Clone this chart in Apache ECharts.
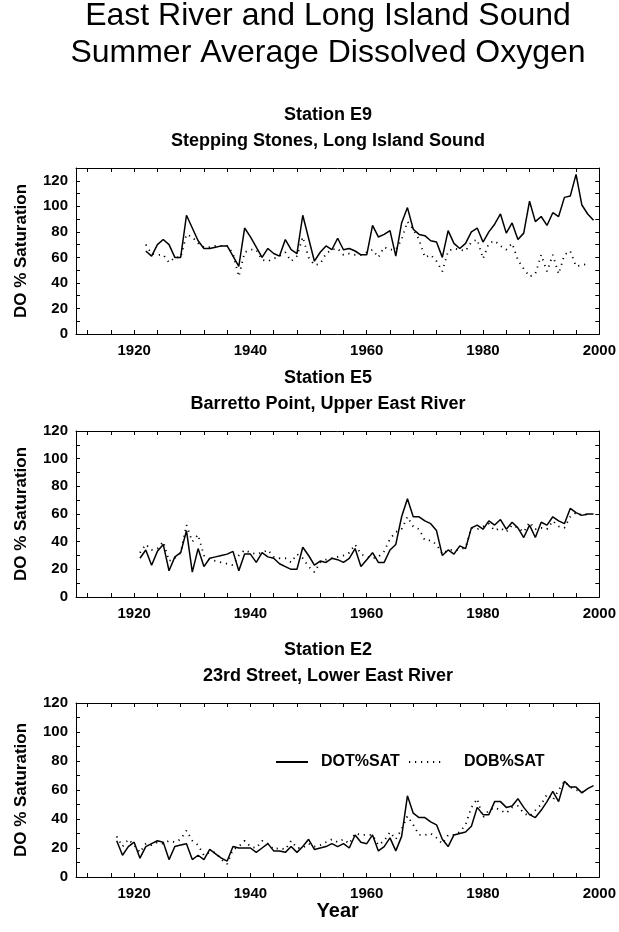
<!DOCTYPE html>
<html>
<head>
<meta charset="utf-8">
<script src="https://cdn.jsdelivr.net/npm/echarts@6/dist/echarts.min.js"></script>
<style>html,body{margin:0;padding:0;background:#fff}#c{width:619px;height:932px}</style>
</head>
<body>
<div id="c"></div>
<script>
// ---- Data ----
const xTickVals = [1912,1916,1920,1924,1928,1932,1936,1940,1944,1948,1952,1956,1960,1964,1968,1972,1976,1980,1984,1988,1992,1996,2000];
const xLabelVals = [1920,1940,1960,1980,2000];
const yLabelVals = [0,20,40,60,80,100,120];

const stationNames = ['Station E9','Station E5','Station E2'];
const stationPlaces = ['Stepping Stones, Long Island Sound','Barretto Point, Upper East River','23rd Street, Lower East River'];
const seriesNames = ['DOT%SAT','DOB%SAT'];

// Station E9
const e9DotStart = 1922;
const e9Dot = [65,61,70,74,70,60,60,93,83,73,67,67,68,69,69,61,53,83,76,68,60,67,63,61,74,66,63,93,75,57,64,69,66,75,66,67,65,62,62,85,76,78,81,61,87,99,82,78,77,73,72,60,81,71,67,71,80,83,72,80,86,94,79,87,74,79,104,88,92,85,95,92,107,108,125,101,94,89];
const e9DobStart = 1922;
const e9Dob = [70,63,62,62,56,60,60,78,76,71,68,68,69,69,69,63,45,64,66,66,58,57,59,61,64,57,61,76,60,54,55,63,66,67,62,63,62,62,64,66,60,68,66,66,74,88,82,74,60,62,57,49,65,67,66,65,72,74,59,71,73,69,66,71,58,51,45,47,62,49,62,47,62,65,53,54,55];

// Station E5
const e5DotStart = 1921;
const e5Dot = [28,34,23,33,38,19,29,32,48,18,35,22,28,29,30,31,33,19,31,31,25,32,29,28,24,22,20,20,36,30,23,26,25,28,27,25,28,35,22,27,32,25,25,34,38,58,71,58,58,55,53,48,30,34,31,37,35,50,52,49,55,52,56,49,54,50,43,52,43,54,52,58,55,53,64,61,59,60,60];
const e5DobStart = 1921;
const e5Dob = [32,38,34,35,40,26,28,32,52,40,45,30,27,26,25,24,23,30,34,32,31,32,34,29,28,28,25,31,28,22,18,25,27,28,29,30,32,38,31,29,28,29,33,42,47,49,58,51,49,41,41,38,31,34,34,34,36,50,49,51,53,48,50,47,52,50,47,54,49,50,49,55,51,50,58,61,59,60];

// Station E2
const e2DotStart = 1917;
const e2Dot = [25,15,21,24,13,21,23,25,24,12,21,22,23,12,15,12,19,16,13,11,21,20,20,20,17,20,23,18,18,17,21,17,21,26,19,20,21,23,21,23,20,29,24,23,29,18,21,27,18,28,56,44,41,41,38,36,26,21,29,30,31,35,48,43,43,52,52,48,49,54,48,43,41,46,52,59,52,66,62,62,58,61,63];
const e2DobStart = 1917;
const e2Dob = [28,21,26,22,17,23,22,24,23,25,24,26,32,25,22,15,17,17,12,9,19,21,25,21,20,25,23,19,20,19,25,20,20,23,21,22,24,26,24,26,23,30,29,29,29,22,25,31,26,33,42,36,29,29,30,27,23,29,29,31,36,48,54,41,46,48,46,44,48,49,44,42,46,50,57,53,60,66,62,60,59,58];

const yMaxes = [130,120,120];

// ---- Build chart ----
const FONT = '"Liberation Sans", Arial, Helvetica, sans-serif';
const pairs = (start, vals) => vals.map((v, i) => [start + i, v]);

const panels = [
  {dot: pairs(e9DotStart, e9Dot), dob: pairs(e9DobStart, e9Dob)},
  {dot: pairs(e5DotStart, e5Dot), dob: pairs(e5DobStart, e5Dob)},
  {dot: pairs(e2DotStart, e2Dot), dob: pairs(e2DobStart, e2Dob)}
];

const gridTops = [168, 431, 703];
const gridHeights = [166, 166, 174];
const headerTops = [102, 365, 637];

const axisLine = {show: true, onZero: false, lineStyle: {color: '#000', width: 1}};
const labelStyle = {color: '#000', fontFamily: FONT, fontSize: 15, fontWeight: 'bold'};
const plain = v => String(v);

const grids = [], xAxes = [], yAxes = [], series = [], titles = [];

titles.push({
  text: 'East River and Long Island Sound\nSummer Average Dissolved Oxygen',
  left: 328, top: -2, textAlign: 'center', padding: 0,
  textStyle: {fontFamily: FONT, fontSize: 32, fontWeight: 'normal', color: '#000', lineHeight: 37}
});

for (let i = 0; i < 3; i++) {
  grids.push({left: 76, right: 19, top: gridTops[i], height: gridHeights[i], containLabel: false});
  titles.push({
    text: stationNames[i] + '\n' + stationPlaces[i],
    left: 328, top: headerTops[i], textAlign: 'center', padding: 0,
    textStyle: {fontFamily: FONT, fontSize: 18, fontWeight: 'bold', color: '#000', lineHeight: 26}
  });
  const isLast = i === 2;
  xAxes.push({
    type: 'value', gridIndex: i, position: 'bottom', min: 1910, max: 2000, interval: 10,
    axisLine, splitLine: {show: false},
    axisTick: {show: true, inside: true, length: 4, customValues: xTickVals, lineStyle: {color: '#000'}},
    axisLabel: Object.assign({show: true, margin: 9, customValues: xLabelVals, formatter: plain}, labelStyle),
    name: isLast ? 'Year' : '', nameLocation: 'middle', nameGap: 18,
    nameTextStyle: {fontFamily: FONT, fontSize: 20, fontWeight: 'bold', color: '#000'}
  });
  xAxes.push({
    type: 'value', gridIndex: i, position: 'top', min: 1910, max: 2000, interval: 10,
    axisLine, splitLine: {show: false},
    axisTick: {show: true, inside: true, length: 4, customValues: xTickVals, lineStyle: {color: '#000'}},
    axisLabel: {show: false}
  });
  yAxes.push({
    type: 'value', gridIndex: i, position: 'left', min: 0, max: yMaxes[i], interval: 10,
    axisLine, splitLine: {show: false},
    axisTick: {show: true, inside: true, length: 4, lineStyle: {color: '#000'}},
    axisLabel: Object.assign({show: true, margin: 8, customValues: yLabelVals, formatter: plain}, labelStyle),
    name: 'DO % Saturation', nameLocation: 'middle', nameGap: 46, nameRotate: 90,
    nameTextStyle: {fontFamily: FONT, fontSize: 17, fontWeight: 'bold', color: '#000'}
  });
  yAxes.push({
    type: 'value', gridIndex: i, position: 'right', min: 0, max: yMaxes[i], interval: 10,
    axisLine, splitLine: {show: false},
    axisTick: {show: true, inside: true, length: 4, lineStyle: {color: '#000'}},
    axisLabel: {show: false}
  });
  series.push({
    name: seriesNames[0], type: 'line', xAxisIndex: 2 * i, yAxisIndex: 2 * i,
    data: panels[i].dot, symbol: 'none', showSymbol: false, smooth: false,
    lineStyle: {color: '#000', width: 1.5, type: 'solid'}, itemStyle: {color: '#000'}, z: 3
  });
  series.push({
    name: seriesNames[1], type: 'line', xAxisIndex: 2 * i, yAxisIndex: 2 * i,
    data: panels[i].dob, symbol: 'none', showSymbol: false, smooth: false,
    lineStyle: {color: '#000', width: 1.8, type: [1.2, 4.8]}, itemStyle: {color: '#000'}, z: 2
  });
}

const legendText = {fontFamily: FONT, fontSize: 16, fontWeight: 'bold', color: '#000'};
const hiddenSymbol = {color: 'rgba(0,0,0,0)', borderColor: 'rgba(0,0,0,0)', borderWidth: 0, opacity: 0};
const option = {
  animation: false,
  backgroundColor: '#fff',
  title: titles,
  grid: grids,
  xAxis: xAxes,
  yAxis: yAxes,
  series: series,
  legend: [
    {data: [seriesNames[0]], left: 275, top: 754, itemWidth: 32, itemHeight: 12, padding: 0,
     itemStyle: hiddenSymbol,
     textStyle: Object.assign({padding: [0, 0, 0, 8]}, legendText)},
    {data: [seriesNames[1]], left: 408, top: 754, itemWidth: 32, itemHeight: 12, padding: 0,
     itemStyle: hiddenSymbol,
     textStyle: Object.assign({padding: [0, 0, 0, 18]}, legendText)}
  ]
};

const chart = echarts.init(document.getElementById('c'), null, {renderer: 'canvas'});
chart.setOption(option);
</script>
</body>
</html>
